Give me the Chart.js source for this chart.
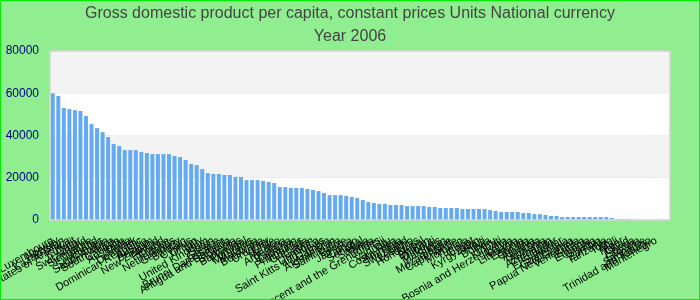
<!DOCTYPE html>
<html lang="en">
<head>
  <meta charset="UTF-8">
  <title>GDP per capita 2006</title>
  <script src="https://cdn.jsdelivr.net/npm/chart.js"></script>
  <style>
    body { margin: 0; }
    .chart-container {
      width: 700px;
      height: 300px;
      box-sizing: border-box;
      border: 1px solid #00ee00;
      background: #90ee90;
    }
  </style>
</head>
<body>
  <div class="chart-container">
    <canvas id="gdpChart"></canvas>
  </div>

  <script>
    const titleLines = [
      'Gross domestic product per capita, constant prices Units National currency',
      'Year 2006'
    ];

    const countries = [
      'Luxembourg', 'Norway', 'Kazakhstan', 'United States of America', 'Kuwait', 'Qatar',
      'Switzerland', 'Singapore', 'Ireland', 'Seychelles', 'Saudi Arabia', 'South Africa',
      'Canada', 'Australia', 'Malta', 'Denmark', 'Dominican Republic', 'Austria',
      'Belgium', 'New Zealand', 'Finland', 'France', 'Netherlands', 'Germany',
      'Bahrain', 'Cyprus', 'Oman', 'Italy', 'United Kingdom', 'Spain',
      'Greece', 'Brunei Darussalam', 'Antigua and Barbuda', 'Slovenia', 'Barbados', 'Portugal',
      'Mauritius', 'Malaysia', 'Botswana', 'Uruguay', 'Chile', 'Mexico',
      'Argentina', 'Panama', 'Lebanon', 'Philippines', 'Grenada', 'Gabon',
      'Dominica', 'Saint Kitts and Nevis', 'Gambia', 'Afghanistan', 'Saint Lucia', 'Belize',
      'Jamaica', 'Congo', 'Senegal', 'Samoa', 'Tonga', 'Saint Vincent and the Grenadines',
      'Fiji', 'Vanuatu', 'Costa Rica', 'Namibia', 'Swaziland', 'Lesotho',
      'Honduras', 'Nepal', 'Bhutan', 'Djibouti', 'Maldives', 'Sudan',
      'Mozambique', 'Cape Verde', 'Morocco', 'Tunisia', 'Egypt', 'Kyrgyzstan',
      'Haiti', 'Bolivia', 'Peru', 'Kiribati', 'Bosnia and Herzegovina', 'Latvia',
      'Lithuania', 'Estonia', 'Croatia', 'Albania', 'Georgia', 'Armenia',
      'Azerbaijan', 'Ecuador', 'El Salvador', 'Guatemala', 'Papua New Guinea', 'Venezuela',
      'Eritrea', 'Ethiopia', 'Ghana', 'Zambia', 'Tanzania', 'Togo',
      'Mali', 'Niger', 'Chad', 'Liberia', 'Guyana', 'Suriname',
      'Trinidad and Tobago', 'Montenegro', '', ''
    ];

    const gdpValues = [
      60000, 58700, 53000, 52500, 52000, 51600, 49200, 45400, 43500, 41600,
      39300, 36000, 35000, 33100, 33100, 33100, 32200, 31700, 31200, 31200,
      31200, 31200, 30300, 29800, 28400, 26500, 26000, 24100, 22200, 21800,
      21800, 21300, 21300, 20400, 20400, 18900, 18900, 18900, 18500, 18000,
      17500, 15600, 15600, 15200, 15200, 15200, 14700, 14200, 13700, 12800,
      11800, 11800, 11800, 11400, 10900, 10400, 9500, 8500, 8000, 7600,
      7600, 7100, 7100, 7100, 6600, 6600, 6600, 6600, 6200, 6200,
      5700, 5700, 5700, 5700, 5200, 5200, 5200, 5200, 5200, 4700,
      4300, 3800, 3800, 3800, 3800, 3300, 3300, 2800, 2800, 2400,
      1900, 1900, 1400, 1400, 1400, 1400, 1400, 1400, 1400, 1400,
      1400, 950, 500, 500, 500, 0, 0, 0, 0, 0,
      0, 0
    ];

    const yTicks = [0, 20000, 40000, 60000, 80000];

    // grey/white bands between the y ticks, plus a thin frame round the plot
    const plotBands = {
      id: 'plotBands',
      beforeDatasetsDraw(chart) {
        const { ctx, chartArea: a, scales: { y } } = chart;
        ctx.save();
        for (let i = 0; i < yTicks.length - 1; i++) {
          const top = y.getPixelForValue(yTicks[i + 1]);
          const bottom = y.getPixelForValue(yTicks[i]);
          ctx.fillStyle = i % 2 ? '#f3f3f3' : '#ffffff';
          ctx.fillRect(a.left, top, a.right - a.left, bottom - top);
        }
        ctx.restore();
      },
      afterDatasetsDraw(chart) {
        const { ctx, chartArea: a } = chart;
        ctx.save();
        ctx.strokeStyle = '#d4d4d4';
        ctx.lineWidth = 1.5;
        ctx.strokeRect(a.left, a.top, a.right - a.left, a.bottom - a.top);
        ctx.restore();
      }
    };

    const ctx = document.getElementById('gdpChart').getContext('2d');
    new Chart(ctx, {
      type: 'bar',
      data: {
        labels: countries,
        datasets: [{
          label: 'GDP per capita',
          data: gdpValues,
          backgroundColor: '#64aaf2'
        }]
      },
      plugins: [plotBands],
      options: {
        responsive: true,
        maintainAspectRatio: false,
        animation: false,
        layout: { padding: 0 },
        plugins: {
          legend: { display: false },
          tooltip: { enabled: false },
          title: {
            display: true,
            text: titleLines,
            color: '#444444',
            font: { family: 'Liberation Sans, Arial, sans-serif', size: 16, weight: 'normal', lineHeight: 1.4375 },
            padding: { top: 1, bottom: 3 }
          }
        },
        scales: {
          y: {
            min: 0,
            max: 80000,
            afterFit: scale => { scale.width = 49; },
            afterBuildTicks: scale => { scale.ticks = yTicks.map(v => ({ value: v })); },
            grid: { display: false, drawTicks: false },
            border: { display: false },
            ticks: {
              color: '#000080',
              padding: 11,
              callback: v => String(v),
              font: { family: 'Liberation Sans, Arial, sans-serif', size: 12 }
            }
          },
          x: {
            afterFit: scale => {
              scale.height = 79;
              scale.paddingLeft = 0;
              scale.paddingRight = 29;
            },
            grid: { display: false, drawTicks: false },
            border: { display: false },
            ticks: {
              autoSkip: false,
              minRotation: 30,
              maxRotation: 30,
              padding: 14,
              color: '#000000',
              font: { family: 'Liberation Sans, Arial, sans-serif', size: 11 }
            }
          }
        }
      }
    });
  </script>
</body>
</html>
